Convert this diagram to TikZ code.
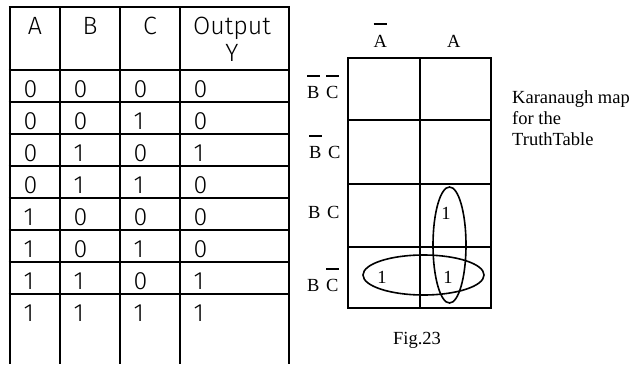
\documentclass[tikz,border=0pt]{standalone}
\usepackage{fontspec}
\setmainfont{Liberation Serif}
\newfontfamily\thinsans{Fira Sans Light}
\usetikzlibrary{shapes.geometric}
\begin{document}
\begin{tikzpicture}[x=1pt,y=-1pt,
  tline/.style={line width=2.8pt},
  kline/.style={line width=2.2pt},
  tcell/.style={font=\thinsans\fontsize{25}{30}\selectfont, anchor=base west, inner sep=0},
  thead/.style={font=\thinsans\fontsize{25}{30}\selectfont, anchor=base, inner sep=0},
  klab/.style={font=\fontsize{18.5}{21}\selectfont, inner sep=0, anchor=base west},
  kone/.style={font=\fontsize{18.5}{21}\selectfont, inner sep=0},
  barline/.style={line width=2pt},
  loopline/.style={draw, ellipse, line width=1.6pt, inner sep=0}]
\useasboundingbox (0,0) rectangle (639,364);
% ---------- truth table ----------
\foreach \x in {10,60,120,180,289} \draw[tline] (\x,7) -- (\x,364);
\foreach \y in {7,70,102,134,166,198,230,262,294} \draw[tline] (8.6,\y) -- (290.4,\y);
\node[thead] (hA) at (35,34) {A};
\node[thead] (hB) at (90,34) {B};
\node[thead] (hC) at (150,34) {C};
\node[thead] (hO) at (232,34) {Output};
\node[thead] (hY) at (232,61) {Y};
\foreach \a/\b/\c/\o [count=\i from 0] in {0/0/0/0,0/0/1/0,0/1/0/1,0/1/1/0,1/0/0/0,1/0/1/0,1/1/0/1,1/1/1/1}{
  \pgfmathsetmacro{\yy}{97.5+32*\i}
  \node[tcell] (a\i) at (23.5,\yy) {\a};
  \node[tcell] (b\i) at (73.5,\yy) {\b};
  \node[tcell] (c\i) at (133.5,\yy) {\c};
  \node[tcell] (o\i) at (193.5,\yy) {\o};
}
% ---------- K-map ----------
\draw[kline] (348,58) rectangle (491,308);
\draw[kline] (420,58) -- (420,308);
\foreach \y in {120,184,247} \draw[kline] (348,\y) -- (491,\y);
% column labels
\node[klab] (cA1) at (373.5,47) {A};
\draw[barline] ([yshift=11pt]cA1.north west) -- ([yshift=11pt]cA1.north east);
\node[klab] (cA2) at (447,47) {A};
% row labels
\node[klab] (rB1) at (307,98) {B};
\node[klab] (rC1) at (326,98) {C};
\draw[barline] ([yshift=10pt]rB1.north west) -- ([yshift=10pt]rB1.north east);
\draw[barline] ([yshift=10pt]rC1.north west) -- ([yshift=10pt]rC1.north east);
\node[klab] (rB2) at (309,158) {B};
\node[klab] (rC2) at (328,158) {C};
\draw[barline] ([yshift=10pt]rB2.north west) -- ([yshift=10pt]rB2.north east);
\node[klab] (rB3) at (308,218) {B};
\node[klab] (rC3) at (327,218) {C};
\node[klab] (rB4) at (307,291) {B};
\node[klab] (rC4) at (326,291) {C};
\draw[barline] ([yshift=10pt]rC4.north west) -- ([yshift=10pt]rC4.north east);
% ones
\node[kone] (m1) at (446,213) {1};
\node[kone] (m2) at (382,277) {1};
\node[kone] (m3) at (448,277) {1};
% groupings
\node[loopline, minimum width=33pt, minimum height=116pt] (gv) at (449.5,245) {};
\node[loopline, minimum width=121pt, minimum height=40pt] (gh) at (423.5,275) {};
% caption texts
\node[klab, align=left, anchor=base west] (note) at (512,145) {Karanaugh map\\for the\\TruthTable};
\node[kone, anchor=base] (fig) at (417,344) {Fig.23};
\end{tikzpicture}
\end{document}
